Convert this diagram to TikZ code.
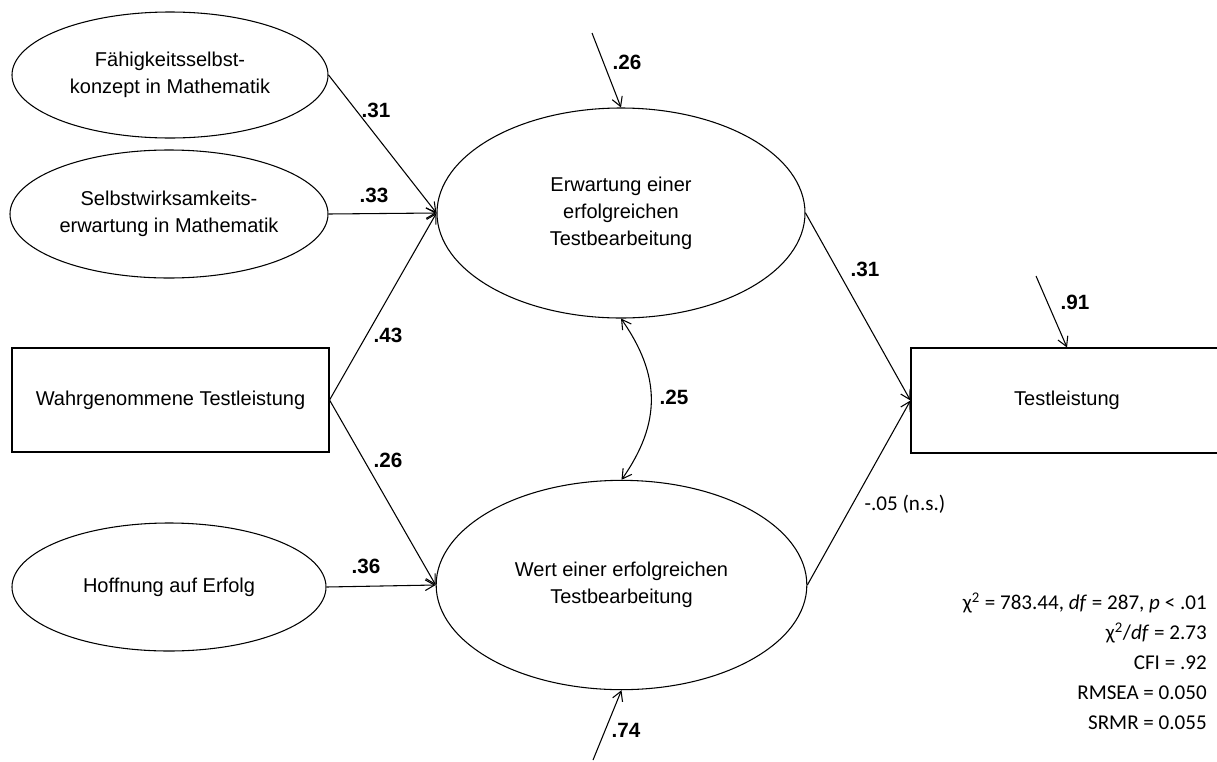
\documentclass[tikz,border=0pt]{standalone}
\usepackage{fontspec}
\setmainfont{Liberation Sans}
\newfontfamily\calib{Carlito}
\usetikzlibrary{shapes.geometric,arrows.meta}
\begin{document}
\begin{tikzpicture}[x=0.75pt,y=-0.75pt,
  every node/.style={font=\fontsize{15}{20.25}\selectfont},
  lat/.style={draw, ellipse, line width=0.8pt, inner sep=0pt, align=center},
  obs/.style={draw, rectangle, line width=0.8pt, inner sep=0pt, align=center},
  arr/.style={line width=0.8pt, -{Straight Barb[length=7pt,width=8pt]}},
  cov/.style={line width=0.8pt, {Straight Barb[length=7pt,width=8pt]}-{Straight Barb[length=7pt,width=8pt]}},
  coef/.style={font=\bfseries\fontsize{15.5}{17}\selectfont, inner sep=0pt},
  plain/.style={font=\calib\fontsize{15.8}{18}\selectfont, inner sep=0pt},
  stat/.style={anchor=east, font=\calib\fontsize{15.8}{18}\selectfont, inner sep=0pt}]
\useasboundingbox (0,0) rectangle (1217,761);
\clip (0,0) rectangle (1217,761);
\fill[white] (0,0) rectangle (1217,761);

% nodes
\node[lat, minimum width=237pt, minimum height=94.5pt] (fsk) at (170,75) {Fähigkeitsselbst-\\konzept in Mathematik};
\node[lat, minimum width=238.5pt, minimum height=96pt] (swe) at (169,214) {Selbstwirksamkeits-\\erwartung in Mathematik};
\node[obs, minimum width=237.75pt, minimum height=78pt] (wtl) at (170.5,400) {Wahrgenommene Testleistung};
\node[lat, minimum width=235.5pt, minimum height=96pt] (hoe) at (169,587) {Hoffnung auf Erfolg};
\node[lat, minimum width=276pt, minimum height=157.5pt] (erw) at (621,213) {Erwartung einer\\erfolgreichen\\Testbearbeitung};
\node[lat, minimum width=278pt, minimum height=157pt] (wer) at (621.5,585) {Wert einer erfolgreichen\\Testbearbeitung};
\node[obs, minimum width=234pt, minimum height=78.75pt] (tl) at (1067,400.5) {Testleistung};

% paths
\draw[arr] (fsk.east) -- (erw.west);
\draw[arr] (swe.east) -- (erw.west);
\draw[arr] (wtl.east) -- (erw.west);
\draw[arr] (wtl.east) -- (wer.west);
\draw[arr] (hoe.east) -- (wer.west);
\draw[arr] (erw.east) -- (tl.west);
\draw[arr] (wer.east) -- (tl.west);
\draw[cov] (erw.south) to[out=-55,in=55,looseness=1.1] (wer.north);

% residuals
\coordinate (e1) at (592,33);
\coordinate (e2) at (593,760);
\coordinate (e3) at (1036,276);
\draw[arr] (e1) -- (erw.north);
\draw[arr] (e2) -- (wer.south);
\draw[arr] (e3) -- (tl.north);

% coefficients
\node[coef] (c1) at (376,110) {.31};
\node[coef] (c2) at (374,195) {.33};
\node[coef] (c3) at (388,335) {.43};
\node[coef] (c4) at (388,460) {.26};
\node[coef] (c5) at (366,566) {.36};
\node[coef] (c6) at (627,62) {.26};
\node[coef] (c7) at (626,730) {.74};
\node[coef] (c8) at (674,397) {.25};
\node[coef] (c9) at (865,269) {.31};
\node[coef] (c10) at (1075,302) {.91};
\node[plain] (c11) at (905,504) {-.05 (n.s.)};

% fit statistics
\node[stat] (s1) at (1207,603) {χ\textsuperscript{2} = 783.44, \textit{df} = 287, \textit{p} < .01};
\node[stat] (s2) at (1207,633) {χ\textsuperscript{2}/\textit{df} = 2.73};
\node[stat] (s3) at (1207,663) {CFI = .92};
\node[stat] (s4) at (1207,693) {RMSEA = 0.050};
\node[stat] (s5) at (1207,723) {SRMR = 0.055};
\end{tikzpicture}
\end{document}
